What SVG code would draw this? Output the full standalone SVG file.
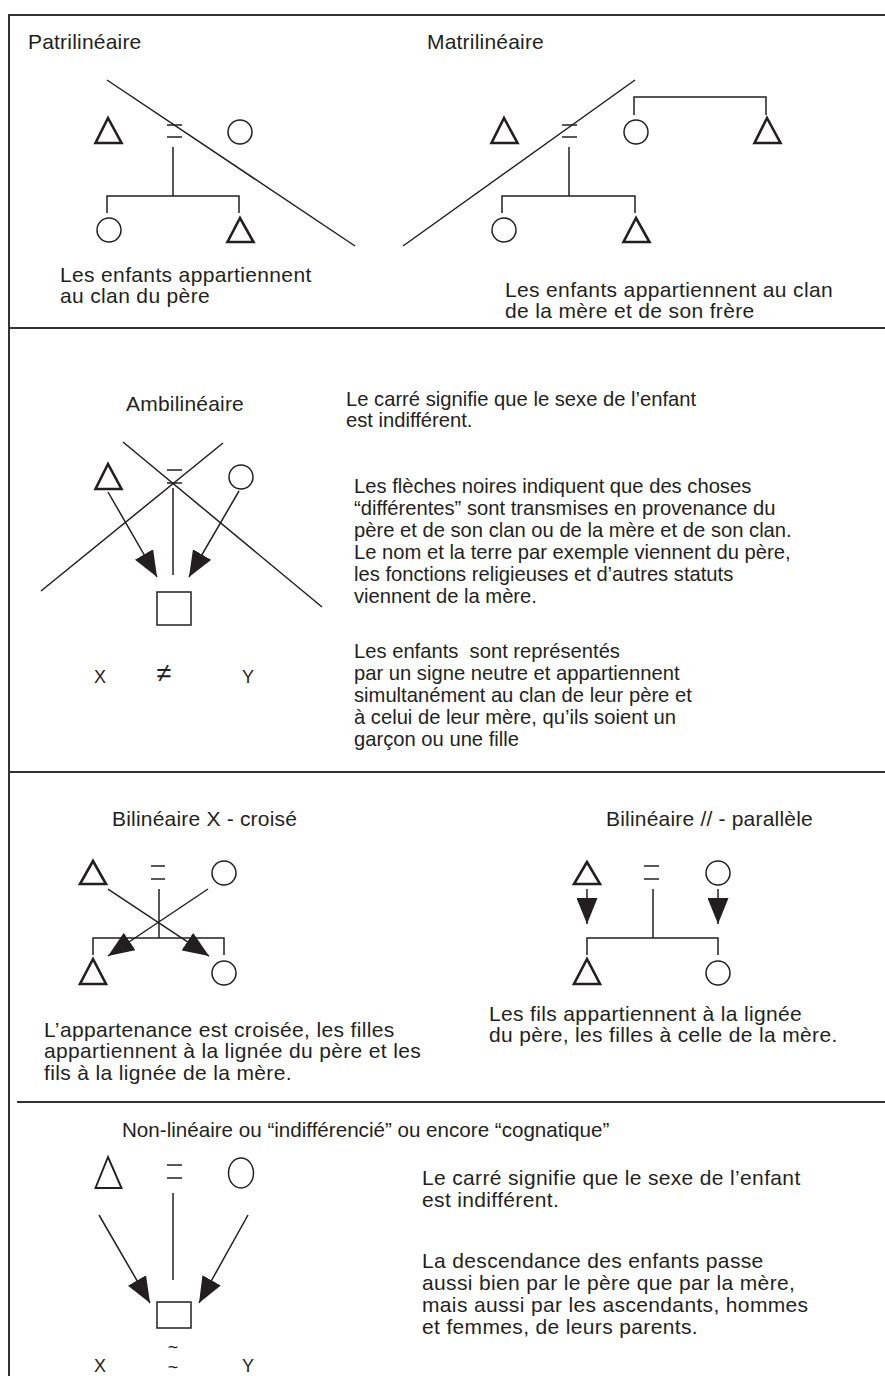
<svg xmlns="http://www.w3.org/2000/svg" width="885" height="1376" viewBox="0 0 885 1376">
<style>
.t{font-family:"Liberation Sans",Arial,sans-serif;fill:#231f20}
.h{font-size:21px;letter-spacing:0.2px}
.b{font-size:21px;letter-spacing:0.35px}
.s{font-size:20.2px}
.xy{font-size:18px}
.ln{stroke:#231f20;stroke-width:1.5;fill:none}
.tri{stroke:#231f20;stroke-width:2.6;fill:none}
.tri2{stroke:#231f20;stroke-width:1.9;fill:none}
.cir{stroke:#231f20;stroke-width:1.5;fill:none}
.frame{stroke:#333;stroke-width:2;fill:none}
.arr{stroke:#231f20;stroke-width:1.5;fill:none;marker-end:url(#ah)}
</style>
<defs>
<marker id="ah" markerUnits="userSpaceOnUse" markerWidth="26" markerHeight="21" refX="26" refY="10.5" orient="auto" viewBox="0 0 26 21">
<path d="M0,0 L26,10.5 L0,21 z" fill="#231f20"/>
</marker>
</defs>
<rect width="885" height="1376" fill="#fff"/>

<g id="frame">
<line class="frame" x1="9" y1="14" x2="9" y2="1376"/>
<line class="frame" x1="8" y1="15" x2="885" y2="15"/>
<line class="frame" x1="8" y1="328" x2="885" y2="328"/>
<line class="frame" x1="8" y1="772" x2="885" y2="772"/>
<line class="frame" x1="17" y1="1102" x2="885" y2="1102"/>
</g>

<!-- Section 1: Patrilinéaire -->
<g id="patri-title"><text class="t h" x="28" y="49">Patrilinéaire</text></g>
<g id="patri-father"><polygon class="tri" points="108,118 95.5,143 121.5,143"/></g>
<g id="patri-marriage"><line class="ln" x1="167" y1="125" x2="182" y2="125"/><line class="ln" x1="167" y1="137" x2="182" y2="137"/></g>
<g id="patri-mother"><circle class="cir" cx="240" cy="132" r="12"/></g>
<g id="patri-daughter"><circle class="cir" cx="109" cy="230" r="12"/></g>
<g id="patri-son"><polygon class="tri" points="240,218 227.5,242 253.5,242"/></g>
<g id="patri-text"><text class="t b" x="60" y="282">Les enfants appartiennent</text><text class="t b" x="60" y="303">au clan du père</text></g>

<!-- Section 1: Matrilinéaire -->
<g id="matri-title"><text class="t h" x="427" y="49">Matrilinéaire</text></g>
<g id="matri-father"><polygon class="tri" points="504,118 491.5,143 517.5,143"/></g>
<g id="matri-marriage"><line class="ln" x1="562" y1="125" x2="577" y2="125"/><line class="ln" x1="562" y1="137" x2="577" y2="137"/></g>
<g id="matri-mother"><circle class="cir" cx="636" cy="132" r="12"/></g>
<g id="matri-uncle"><polygon class="tri" points="767,118 754.5,143 780.5,143"/></g>
<g id="matri-daughter"><circle class="cir" cx="504" cy="230" r="12"/></g>
<g id="matri-son"><polygon class="tri" points="636,218 623.5,242 649.5,242"/></g>
<g id="matri-text"><text class="t b" x="505" y="297">Les enfants appartiennent au clan</text><text class="t b" x="505" y="318">de la mère et de son frère</text></g>

<!-- Section 2: Ambilinéaire -->
<g id="ambi-title"><text class="t h" x="126" y="411">Ambilinéaire</text></g>
<g id="ambi-father"><polygon class="tri" points="108,464 95.5,489 121.5,489"/></g>
<g id="ambi-marriage"><line class="ln" x1="167" y1="470" x2="182" y2="470"/><line class="ln" x1="167" y1="483" x2="182" y2="483"/></g>
<g id="ambi-mother"><circle class="cir" cx="241" cy="477" r="12"/></g>
<g id="ambi-child"><rect class="cir" x="157" y="592" width="34" height="33"/></g>
<g id="ambi-xy">
<text class="t xy" x="100" y="683" text-anchor="middle">X</text>
<text class="t" x="164" y="682" text-anchor="middle" font-size="27">≠</text>
<text class="t xy" x="248" y="683" text-anchor="middle">Y</text>
</g>
<g id="ambi-text1"><text class="t s" x="346" y="406">Le carré signifie que le sexe de l’enfant</text><text class="t s" x="346" y="427">est indifférent.</text></g>
<g id="ambi-text2">
<text class="t s" x="354" y="493">Les flèches noires indiquent que des choses</text>
<text class="t s" x="354" y="515">“différentes” sont transmises en provenance du</text>
<text class="t s" x="354" y="537">père et de son clan ou de la mère et de son clan.</text>
<text class="t s" x="354" y="559">Le nom et la terre par exemple viennent du père,</text>
<text class="t s" x="354" y="581">les fonctions religieuses et d’autres statuts</text>
<text class="t s" x="354" y="603">viennent de la mère.</text>
</g>
<g id="ambi-text3">
<text class="t s" x="354" y="658" xml:space="preserve" style="white-space:pre">Les enfants  sont représentés</text>
<text class="t s" x="354" y="680">par un signe neutre et appartiennent</text>
<text class="t s" x="354" y="702">simultanément au clan de leur père et</text>
<text class="t s" x="354" y="724">à celui de leur mère, qu’ils soient un</text>
<text class="t s" x="354" y="746">garçon ou une fille</text>
</g>

<!-- Section 3: Bilinéaire croisé -->
<g id="cross-title"><text class="t h" x="112" y="826">Bilinéaire X - croisé</text></g>
<g id="cross-father"><polygon class="tri" points="93,861 80,884 106,884"/></g>
<g id="cross-marriage"><line class="ln" x1="151" y1="866" x2="165" y2="866"/><line class="ln" x1="151" y1="879" x2="165" y2="879"/></g>
<g id="cross-mother"><circle class="cir" cx="224" cy="873" r="12"/></g>
<g id="cross-son"><polygon class="tri" points="93,959 80,984 106,984"/></g>
<g id="cross-daughter"><circle class="cir" cx="224" cy="973" r="12"/></g>
<g id="cross-text">
<text class="t b" x="44" y="1037">L’appartenance est croisée, les filles</text>
<text class="t b" x="44" y="1058">appartiennent à la lignée du père et les</text>
<text class="t b" x="44" y="1080">fils à la lignée de la mère.</text>
</g>

<!-- Section 3: Bilinéaire parallèle -->
<g id="para-title"><text class="t h" x="606" y="826">Bilinéaire // - parallèle</text></g>
<g id="para-father"><polygon class="tri" points="587,862 574,884 600,884"/></g>
<g id="para-marriage"><line class="ln" x1="644" y1="866" x2="659" y2="866"/><line class="ln" x1="644" y1="879" x2="659" y2="879"/></g>
<g id="para-mother"><circle class="cir" cx="718" cy="873" r="12"/></g>
<g id="para-son"><polygon class="tri" points="587,959 574,984 600,984"/></g>
<g id="para-daughter"><circle class="cir" cx="718" cy="973" r="12"/></g>
<g id="para-text">
<text class="t b" x="489" y="1021">Les fils appartiennent à la lignée</text>
<text class="t b" x="489" y="1042">du père, les filles à celle de la mère.</text>
</g>

<!-- Section 4: Non-linéaire -->
<g id="cogn-title"><text class="t" x="122" y="1137" font-size="20.6">Non-linéaire ou “indifférencié” ou encore “cognatique”</text></g>
<g id="cogn-father"><polygon class="tri2" points="108,1157 95.5,1188 121.5,1188"/></g>
<g id="cogn-marriage"><line class="ln" x1="167" y1="1165" x2="182" y2="1165"/><line class="ln" x1="167" y1="1178" x2="182" y2="1178"/></g>
<g id="cogn-mother"><ellipse class="cir" cx="241" cy="1173" rx="12.5" ry="15"/></g>
<g id="cogn-child"><rect class="cir" x="157" y="1302" width="34" height="26"/></g>
<g id="cogn-xy">
<text class="t xy" x="100" y="1372" text-anchor="middle">X</text>
<text class="t" x="173" y="1353" text-anchor="middle" font-size="18">~</text>
<text class="t" x="173" y="1373" text-anchor="middle" font-size="18">~</text>
<text class="t xy" x="248" y="1372" text-anchor="middle">Y</text>
</g>
<g id="cogn-text1"><text class="t b" x="422" y="1185">Le carré signifie que le sexe de l’enfant</text><text class="t b" x="422" y="1207">est indifférent.</text></g>
<g id="cogn-text2">
<text class="t b" x="422" y="1268">La descendance des enfants passe</text>
<text class="t b" x="422" y="1290">aussi bien par le père que par la mère,</text>
<text class="t b" x="422" y="1312">mais aussi par les ascendants, hommes</text>
<text class="t b" x="422" y="1334">et femmes, de leurs parents.</text>
</g>

<g id="connectors">
<line class="ln" x1="107" y1="80" x2="355" y2="246"/>
<path class="ln" d="M173,147 V196 M107,213 V196 H239 V213"/>
<line class="ln" x1="403" y1="246" x2="635" y2="80"/>
<path class="ln" d="M634,115 V97 H766 V115"/>
<path class="ln" d="M569,147 V196 M502,213 V196 H635 V213"/>
<line class="ln" x1="123" y1="442" x2="322" y2="607"/>
<line class="ln" x1="223" y1="443" x2="41" y2="591"/>
<line class="ln" x1="173" y1="488" x2="173" y2="575"/>
<line class="arr" x1="108" y1="492" x2="157" y2="577"/>
<line class="arr" x1="239" y1="491" x2="189" y2="577"/>
<path class="ln" d="M159,889 V938 M93,955 V938 H224 V955"/>
<line class="arr" x1="108" y1="889" x2="209" y2="956"/>
<line class="arr" x1="208" y1="889" x2="108" y2="956"/>
<path class="ln" d="M653,889 V938 M587,955 V938 H718 V955"/>
<line class="arr" x1="587" y1="889" x2="587" y2="924"/>
<line class="arr" x1="718" y1="889" x2="718" y2="924"/>
<line class="ln" x1="173" y1="1193" x2="173" y2="1280"/>
<line class="arr" x1="99" y1="1215" x2="150" y2="1303"/>
<line class="arr" x1="248" y1="1215" x2="199" y2="1303"/>
</g>
</svg>
